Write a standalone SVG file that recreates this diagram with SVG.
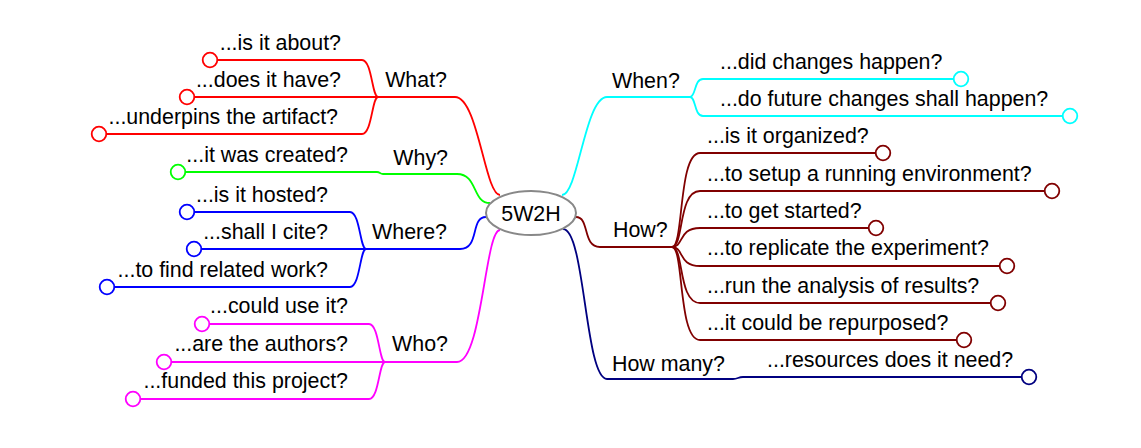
<svg xmlns="http://www.w3.org/2000/svg" width="1141" height="448" viewBox="0 0 1141 448">
<style>
text{font-family:"Liberation Sans",Arial,sans-serif;font-size:21.4px;fill:#000}
.e{text-anchor:end}
path{fill:none;stroke-width:1.8}
circle{fill:#fff;stroke-width:1.8}
.red{stroke:#ff0000}.grn{stroke:#00ff00}.blu{stroke:#0000ff}.mag{stroke:#ff00ff}
.cya{stroke:#00ffff}.drd{stroke:#800000}.nav{stroke:#000080}
</style>
<rect width="1141" height="448" fill="#fff"/>
<g id="connectors">
<path class="red" d="M500 195 C485 195 478 97 455 97 L378 97"/>
<path class="red" d="M378 97 C372 97 372 60 362 60 L210 60"/>
<path class="red" d="M378 97 L187 97"/>
<path class="red" d="M378 97 C372 97 372 134 362 134 L99 134"/>
<path class="grn" d="M490 203 C472 203 478 174 457 174 L383 174 C380 174 380 172 377 172 L178 172"/>
<path class="blu" d="M486 217 C470 217 480 249 460 249 L366 249"/>
<path class="blu" d="M366 249 C360 249 360 212 350 212 L187 212"/>
<path class="blu" d="M366 249 L194 249"/>
<path class="blu" d="M366 249 C360 249 360 287 350 287 L107 287"/>
<path class="mag" d="M500 230 C485 230 482 362 457 362 L385 362"/>
<path class="mag" d="M385 362 C379 362 379 324 369 324 L202 324"/>
<path class="mag" d="M385 362 L164 362"/>
<path class="mag" d="M385 362 C379 362 379 399 369 399 L133 399"/>
<path class="cya" d="M562 195 C578 195 585 97 607 97 L690 97"/>
<path class="cya" d="M690 97 C696 97 694 79 703 79 L961 79"/>
<path class="cya" d="M690 97 C696 97 694 116 703 116 L1070 116"/>
<path class="drd" d="M576 217 C590 217 582 247 600 247 L672 247"/>
<path class="drd" d="M672 247 C684 247 678 153 700 153 L883 153"/>
<path class="drd" d="M672 247 C684 247 678 191 700 191 L1052 191"/>
<path class="drd" d="M672 247 C684 247 678 228 700 228 L876 228"/>
<path class="drd" d="M672 247 C684 247 678 266 700 266 L1007 266"/>
<path class="drd" d="M672 247 C684 247 678 303 700 303 L998 303"/>
<path class="drd" d="M672 247 C684 247 678 340 700 340 L964 340"/>
<path class="nav" d="M563 229 C585 229 585 379 607 379 L733 379 C738 379 738 377 743 377 L1029 377"/>
</g>
<g id="root">
<ellipse cx="531" cy="213" rx="45" ry="22" fill="#fff" stroke="#888" stroke-width="2"/>
<text x="531" y="221" text-anchor="middle">5W2H</text>
</g>
<g id="what"><text class="e" x="447" y="87">What?</text></g>
<g id="what-about"><text class="e" x="341" y="50">...is it about?</text><circle class="red" cx="210" cy="60" r="7.3"/></g>
<g id="what-have"><text class="e" x="341" y="87">...does it have?</text><circle class="red" cx="187" cy="97" r="7.3"/></g>
<g id="what-underpins"><text class="e" x="338" y="124">...underpins the artifact?</text><circle class="red" cx="99" cy="134" r="7.3"/></g>
<g id="why"><text class="e" x="448" y="165">Why?</text></g>
<g id="why-created"><text class="e" x="348" y="162">...it was created?</text><circle class="grn" cx="178" cy="172" r="7.3"/></g>
<g id="where"><text class="e" x="447" y="239">Where?</text></g>
<g id="where-hosted"><text class="e" x="328" y="202">...is it hosted?</text><circle class="blu" cx="187" cy="212" r="7.3"/></g>
<g id="where-cite"><text class="e" x="328" y="239">...shall I cite?</text><circle class="blu" cx="194" cy="249" r="7.3"/></g>
<g id="where-related"><text class="e" x="328" y="277">...to find related work?</text><circle class="blu" cx="107" cy="287" r="7.3"/></g>
<g id="who"><text class="e" x="448" y="351">Who?</text></g>
<g id="who-use"><text class="e" x="348" y="313">...could use it?</text><circle class="mag" cx="202" cy="324" r="7.3"/></g>
<g id="who-authors"><text class="e" x="348" y="351">...are the authors?</text><circle class="mag" cx="164" cy="362" r="7.3"/></g>
<g id="who-funded"><text class="e" x="348" y="388">...funded this project?</text><circle class="mag" cx="133" cy="399" r="7.3"/></g>
<g id="when"><text x="612" y="88">When?</text></g>
<g id="when-did"><text x="720" y="69">...did changes happen?</text><circle class="cya" cx="961" cy="79" r="7.3"/></g>
<g id="when-future"><text x="720" y="106">...do future changes shall happen?</text><circle class="cya" cx="1070" cy="116" r="7.3"/></g>
<g id="how"><text x="613" y="237">How?</text></g>
<g id="how-organized"><text x="707" y="143">...is it organized?</text><circle class="drd" cx="883" cy="153" r="7.3"/></g>
<g id="how-setup"><text x="707" y="181">...to setup a running environment?</text><circle class="drd" cx="1052" cy="191" r="7.3"/></g>
<g id="how-started"><text x="707" y="218">...to get started?</text><circle class="drd" cx="876" cy="228" r="7.3"/></g>
<g id="how-replicate"><text x="707" y="255">...to replicate the experiment?</text><circle class="drd" cx="1007" cy="266" r="7.3"/></g>
<g id="how-analysis"><text x="707" y="293">...run the analysis of results?</text><circle class="drd" cx="998" cy="303" r="7.3"/></g>
<g id="how-repurposed"><text x="707" y="330">...it could be repurposed?</text><circle class="drd" cx="964" cy="340" r="7.3"/></g>
<g id="howmany"><text x="612" y="371">How many?</text></g>
<g id="howmany-resources"><text x="767" y="367">...resources does it need?</text><circle class="nav" cx="1029" cy="377" r="7.3"/></g>
</svg>
